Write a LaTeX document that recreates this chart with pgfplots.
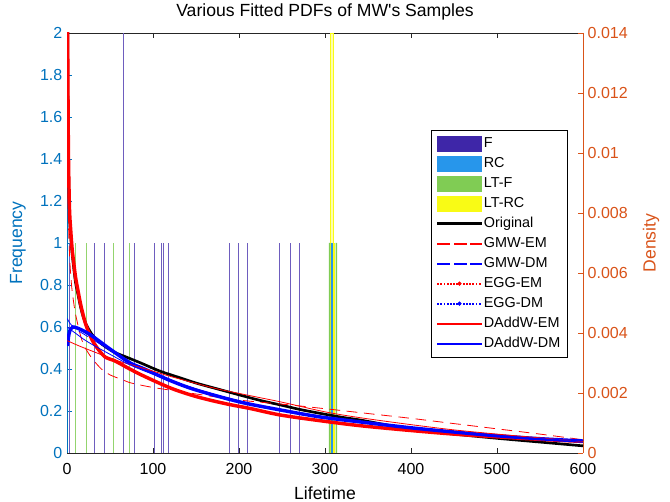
\documentclass[border=0pt]{standalone}
\usepackage{fontspec}
\setmainfont{Liberation Sans}
\usepackage{pgfplots}
\pgfplotsset{compat=1.18}

\definecolor{Fc}{rgb}{0.2422,0.1504,0.6603}
\definecolor{RCc}{rgb}{0.1540,0.5902,0.9218}
\definecolor{LTFc}{rgb}{0.50,0.80,0.33}
\definecolor{LTRCc}{rgb}{0.9769,0.9839,0.0805}
\definecolor{lblue}{rgb}{0,0.447,0.741}
\definecolor{rorange}{rgb}{0.85,0.325,0.098}
\definecolor{axgray}{rgb}{0.15,0.15,0.15}

\pgfplotsset{
  common/.style={
    at={(0,0)}, anchor=south west, scale only axis,
    width=387pt, height=315pt,
    xmin=0, xmax=600,
    major tick length=4pt, tick align=inside,
    /pgf/number format/assume math mode=true,
    tick label style={font=\fontsize{12}{14}\selectfont},
    label style={font=\fontsize{13.2}{15}\selectfont},
  },
  % legend swatches drawn as fills
  solidimg/.style={legend image code/.code={\fill[#1] (0pt,-0.28pt) rectangle (33pt,0.28pt);}},
  thickimg/.style={legend image code/.code={\fill[#1] (0pt,-0.75pt) rectangle (33pt,0.75pt);}},
  dashimg/.style={legend image code/.code={
      \fill[#1] (0pt,-0.28pt) rectangle (9pt,0.28pt);
      \fill[#1] (12.5pt,-0.28pt) rectangle (21.5pt,0.28pt);
      \fill[#1] (25pt,-0.28pt) rectangle (33pt,0.28pt);}},
  dotimg/.style={legend image code/.code={
      \foreach \x in {0,2.4,...,32} {\fill[#1] (\x pt,-0.35pt) rectangle ++(0.7pt,0.7pt);}
      \fill[#1] (16.5pt,0pt) circle (1.3pt);}},
  barimg/.style={legend image code/.code={\fill[#1] (0pt,-5.5pt) rectangle (33pt,5.5pt);}},
}

\begin{document}
\begin{tikzpicture}
% left axis: sample bars
\begin{axis}[common,
  ymin=0, ymax=2,
  axis y line*=left,
  xtick={0,100,200,300,400,500,600},
  ytick={0,0.2,0.4,0.6,0.8,1,1.2,1.4,1.6,1.8,2},
  yticklabel style={color=lblue, /pgf/number format/fixed, /pgf/number format/precision=1},
  y axis line style={color=lblue, line width=0.5pt},
  ytick style={color=lblue},
  x axis line style={color=axgray, line width=0.5pt},
  xtick style={color=axgray},
  xticklabel style={yshift=-4pt},
  ylabel={Frequency},
  ylabel style={color=lblue, at={(axis description cs:-0.095,0.5)}, anchor=center},
  xlabel={Lifetime},
  xlabel style={at={(axis description cs:0.5,-0.095)}, anchor=center},
  title={Various Fitted PDFs of MW\textquotesingle s Samples},
  every axis title shift=0pt,
  title style={at={(axis description cs:0.5,1.05)}, anchor=center, font=\fontsize{13.2}{15}\selectfont},
]
% F
\addplot[ycomb, draw=Fc!75, line width=0.55pt, mark=none] coordinates {
  (3,1) (32,1) (43,1) (65.5,2) (78,1) (101.5,1) (110,1) (112.4,1) (118,1)
  (188.7,1) (198.8,1) (209.7,1) (246.9,1) (259.7,1) (269.8,1)
};
% LT-F
\addplot[ycomb, draw=LTFc!85, line width=0.55pt, mark=none] coordinates {
  (9.8,1) (22.5,1) (53.9,1) (72.5,1)
};
% cluster near 310
\addplot[ybar, bar shift=0pt, bar width=3.9, fill=LTRCc!35, draw=LTRCc, line width=0.35pt] coordinates {(307.75,2)};
\addplot[ybar, bar shift=0pt, bar width=1.6, fill=LTFc, draw=none] coordinates {(305.4,1) (313.2,1)};
\addplot[ybar, bar shift=0pt, bar width=2.4, fill=RCc, draw=none] coordinates {(308.2,1)};
\addplot[ybar, bar shift=0pt, bar width=2.0, fill=LTRCc, draw=none] coordinates {(311.2,1)};
\end{axis}

% right axis: fitted densities
\begin{axis}[common,
  ymin=0, ymax=0.014,
  axis y line*=right, axis x line=none,
  ytick={0,0.002,0.004,0.006,0.008,0.01,0.012,0.014},
  scaled y ticks=false,
  yticklabel style={color=rorange, /pgf/number format/fixed, /pgf/number format/precision=3},
  y axis line style={color=rorange, line width=0.5pt},
  ytick style={color=rorange},
  ylabel={Density},
  ylabel style={color=rorange, at={(axis description cs:1.132,0.5)}, anchor=center, rotate=0},
  legend style={at={(0.971,0.769)}, anchor=north east, draw=black, line width=0.5pt,
    font=\fontsize{10.8}{12}\selectfont, row sep=1pt,
    nodes={inner sep=1.5pt, text height=8.5pt, text depth=2.5pt},
    inner xsep=4pt, inner ysep=3pt},
  legend cell align=left,
]
\addlegendimage{barimg=Fc}
\addlegendentry{F}
\addlegendimage{barimg=RCc}
\addlegendentry{RC}
\addlegendimage{barimg=LTFc}
\addlegendentry{LT-F}
\addlegendimage{barimg=LTRCc}
\addlegendentry{LT-RC}
\addlegendimage{thickimg=black}
\addlegendentry{Original}
\addlegendimage{dashimg=red}
\addlegendentry{GMW-EM}
\addlegendimage{dashimg=blue}
\addlegendentry{GMW-DM}
\addlegendimage{dotimg=red}
\addlegendentry{EGG-EM}
\addlegendimage{dotimg=blue}
\addlegendentry{EGG-DM}
\addlegendimage{solidimg=red}
\addlegendentry{DAddW-EM}
\addlegendimage{solidimg=blue}
\addlegendentry{DAddW-DM}

% Original
\addplot[black, line width=2pt, smooth, forget plot] coordinates {
  (0.7,0.0147) (1,0.01225) (1.5,0.01015) (2,0.0091) (3,0.00784) (4.5,0.00714)
  (6,0.00665) (8,0.006125) (10,0.00567) (12,0.00539) (15,0.00497) (18,0.00462)
  (22,0.004305) (29,0.003955) (37,0.00371) (45,0.003535) (55,0.00336) (70,0.003185)
  (85,0.00301) (108,0.00273) (130,0.00252) (151,0.002324) (175,0.002135)
  (201,0.001932) (225,0.00175) (248,0.001603) (270,0.001456) (294,0.001323)
  (320,0.00119) (341,0.001099) (370,0.000945) (400,0.000791) (450,0.00063)
  (500,0.00049) (550,0.000364) (600,0.000238)
};
% GMW-EM
\addplot[red, line width=0.6pt, dash pattern=on 8pt off 5pt, smooth, forget plot] coordinates {
  (0.5,0.0098) (1,0.00875) (2,0.00735) (3.5,0.0063) (5.5,0.00553) (8,0.00497)
  (10,0.00462) (15,0.00399) (20,0.00357) (29,0.003157) (40,0.0028) (50,0.002604)
  (65,0.002436) (75,0.002331) (100,0.002184) (131,0.002051) (160,0.001925)
  (200,0.001764) (259,0.001603) (302,0.00147) (350,0.001316) (400,0.001155)
  (450,0.00098) (500,0.000805) (550,0.00063) (600,0.000441)
};
% GMW-DM
\addplot[blue, line width=0.6pt, dash pattern=on 8pt off 5pt, smooth, forget plot] coordinates {
  (0.3,0.00448) (3,0.00434) (6,0.004235) (10,0.00413) (20,0.003955) (30,0.00378)
  (50,0.00343) (73,0.00301) (100,0.00266) (150,0.002135) (200,0.001736)
  (250,0.001435) (300,0.00119) (400,0.00084) (500,0.000581) (600,0.000406)
};
% EGG-EM
\addplot[red, line width=2.6pt, smooth, forget plot] coordinates {
  (0.6,0.0147) (1,0.0126) (1.5,0.0105) (2,0.00931) (3,0.00805) (4.5,0.00735)
  (6,0.00679) (8,0.0063) (10,0.005845) (12,0.00553) (15,0.005075) (18,0.00469)
  (22,0.00427) (29,0.00378) (37,0.00343) (45,0.003185) (55,0.00308) (73,0.0028)
  (90,0.002555) (120,0.00217) (145,0.001925) (166,0.001764) (190,0.00161)
  (213,0.001484) (248,0.001267) (294,0.001078) (341,0.00091) (400,0.000749)
  (450,0.00063) (500,0.000539) (550,0.000455) (600,0.000385)
};
% EGG-DM
\addplot[blue, line width=2.6pt, smooth, forget plot] coordinates {
  (0.5,0.00357) (2,0.00392) (4,0.00413) (7,0.0042) (12,0.004165) (20,0.00406)
  (30,0.003885) (50,0.003465) (73,0.00301) (90,0.0028) (120,0.002415) (150,0.0021)
  (201,0.001701) (248,0.001435) (294,0.001204) (341,0.001036) (400,0.00084)
  (450,0.0007) (500,0.000574) (550,0.000476) (600,0.000399)
};
% DAddW-EM
\addplot[red, line width=0.6pt, smooth, forget plot] coordinates {
  (0.3,0.003745) (10,0.003619) (20,0.0035) (40,0.003276) (58,0.00308) (73,0.002954)
  (100,0.00273) (120,0.002555) (170,0.00217) (213,0.001911) (250,0.001694)
  (300,0.001372) (341,0.001176) (400,0.000945) (450,0.00077) (500,0.00063)
  (550,0.000504) (600,0.000385)
};
% DAddW-DM
\addplot[blue, line width=0.6pt, smooth, forget plot] coordinates {
  (0.3,0.0042) (5,0.004095) (10,0.00399) (20,0.00378) (30,0.003605) (50,0.00329)
  (73,0.00294) (100,0.002625) (150,0.002135) (200,0.001736) (250,0.001435)
  (300,0.00119) (400,0.000826) (500,0.000574) (600,0.000399)
};
\end{axis}
\pgfresetboundingbox
\path[use as bounding box] (-50.25pt,-36.75pt) rectangle (452.25pt,339.75pt);
\end{tikzpicture}
\end{document}
